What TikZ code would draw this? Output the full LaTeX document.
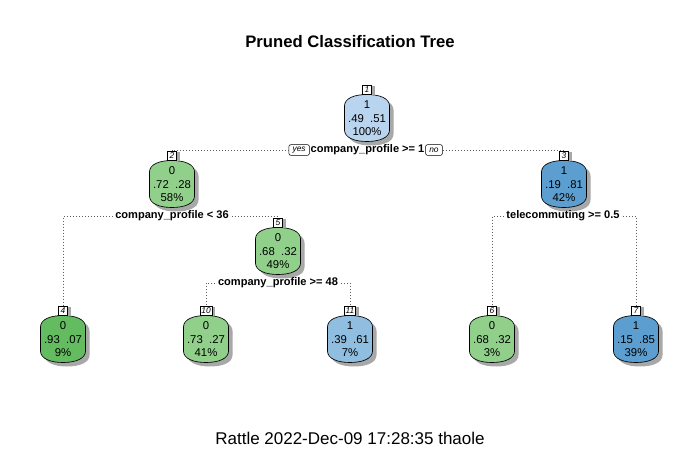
\documentclass[tikz,border=0pt]{standalone}
\usepackage{fontspec}
\setmainfont{Liberation Sans}
\usetikzlibrary{shadows}
\definecolor{cb1}{HTML}{B9D4EE}
\definecolor{cb2}{HTML}{8FBEE0}
\definecolor{cb3}{HTML}{5B9ECF}
\definecolor{cg1}{HTML}{90D08A}
\definecolor{cg2}{HTML}{64BC61}
\definecolor{shadowc}{HTML}{A8A8A8}
\definecolor{dotc}{HTML}{606060}
\tikzset{
  nodetext/.style={align=center, inner sep=0pt, font=\fontsize{8.5}{10.1}\selectfont},
  numbox/.style={draw=black, line width=0.4pt, fill=white, inner xsep=1pt, inner ysep=0.5pt,
     minimum height=7pt, minimum width=7pt, font=\fontsize{6.3}{6.5}\selectfont\itshape,
     drop shadow={shadow xshift=2.4pt, shadow yshift=-0.8pt, fill=shadowc, opacity=1}},
  splitlab/.style={inner sep=2pt, font=\fontsize{8.3}{9}\selectfont\bfseries},
  yesno/.style={draw=black, line width=0.4pt, fill=white, rounded corners=1.5pt, inner xsep=2.8pt,
     inner ysep=1pt, font=\fontsize{6.3}{7}\selectfont\itshape, minimum height=8pt},
  dotline/.style={draw=dotc, line width=0.55pt, dash pattern=on 0.5pt off 1.75pt},
  barrelline/.style={draw=black, line width=0.5pt}
}
\def\barrel{(-22.5,-12) .. controls (-22.5,-19.5) and (-13,-23.5) .. (0,-23.5) .. controls (13,-23.5) and (22.5,-19.5) .. (22.5,-12) -- (22.5,12) .. controls (22.5,19.5) and (13,23.5) .. (0,23.5) .. controls (-13,23.5) and (-22.5,19.5) .. (-22.5,12) -- cycle}
% #1 name, #2 cx, #3 cy, #4 color, #5 number, #6 class, #7 probs, #8 pct
\newcommand\rpnode[8]{%
  \fill[shadowc, shift={(#2+4,#3+4)}] \barrel;
  \path[barrelline, fill=#4, shift={(#2,#3)}] \barrel;
  \node[nodetext] (#1) at (#2,#3+0.5) {#6\\#7\\#8};
  \node[numbox] (n#1) at (#2,#3-28.5) {#5};
}
\begin{document}
\begin{tikzpicture}[x=0.75pt,y=-0.75pt]
\useasboundingbox[fill=white] (0,0) rectangle (700,466);
\node[font=\fontsize{12.5}{14}\selectfont\bfseries] (title) at (350,42) {Pruned Classification Tree};
\node[font=\fontsize{12.75}{14}\selectfont] (foot) at (350,438) {Rattle 2022-Dec-09 17:28:35 thaole};

\rpnode{a1}{367}{118}{cb1}{1}{1}{.49\ \ .51}{100\%}
\rpnode{a2}{172}{184}{cg1}{2}{0}{.72\ \ .28}{58\%}
\rpnode{a3}{564}{184}{cb3}{3}{1}{.19\ \ .81}{42\%}
\rpnode{a5}{278}{251}{cg1}{5}{0}{.68\ \ .32}{49\%}
\rpnode{a4}{63}{339}{cg2}{4}{0}{.93\ \ .07}{9\%}
\rpnode{a10}{206}{339}{cg1}{10}{0}{.73\ \ .27}{41\%}
\rpnode{a11}{350}{339}{cb2}{11}{1}{.39\ \ .61}{7\%}
\rpnode{a6}{492}{339}{cg1}{6}{0}{.68\ \ .32}{3\%}
\rpnode{a7}{636}{339}{cb3}{7}{1}{.15\ \ .85}{39\%}

% split labels
\node[splitlab, inner xsep=0.5pt] (s1) at (367.5,150) {company\_profile >= 1};
\node[yesno, anchor=east] (yes) at (s1.west) {yes};
\node[yesno, anchor=west] (no) at (s1.east) {no};
\node[splitlab] (s2) at (172,216) {company\_profile < 36};
\node[splitlab] (s3) at (563,216) {telecommuting >= 0.5};
\node[splitlab] (s5) at (278,283) {company\_profile >= 48};

% connectors
\draw[dotline] (yes.west) -- (yes.west -| na2) -- (na2.north);
\draw[dotline] (no.east) -- (no.east -| na3) -- (na3.north);
\draw[dotline] (s2.west) -- (s2.west -| na4) -- (na4.north);
\draw[dotline] (s2.east) -- (s2.east -| na5) -- (na5.north);
\draw[dotline] (s3.west) -- (s3.west -| na6) -- (na6.north);
\draw[dotline] (s3.east) -- (s3.east -| na7) -- (na7.north);
\draw[dotline] (s5.west) -- (s5.west -| na10) -- (na10.north);
\draw[dotline] (s5.east) -- (s5.east -| na11) -- (na11.north);
\end{tikzpicture}
\end{document}
